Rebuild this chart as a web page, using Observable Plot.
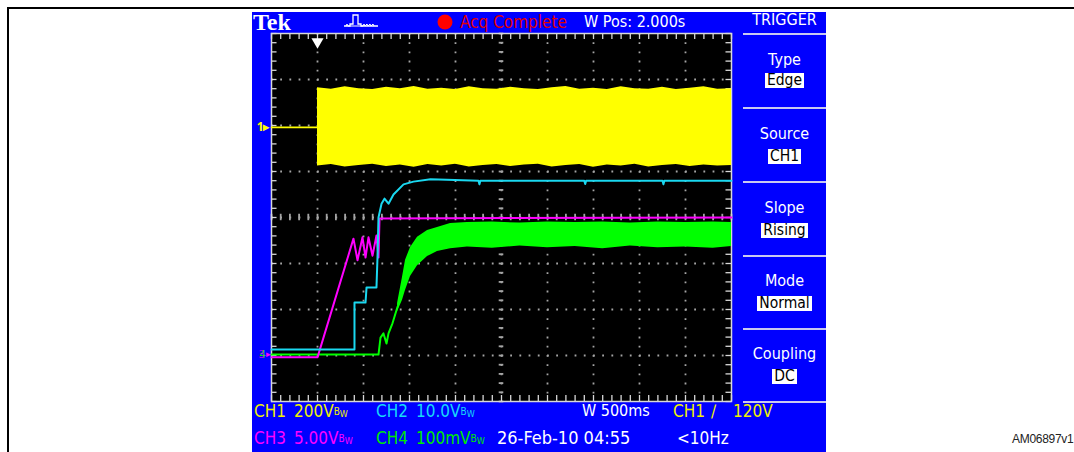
<!DOCTYPE html>
<html><head><meta charset="utf-8">
<script src="https://cdn.jsdelivr.net/npm/d3@7"></script>
<script src="https://cdn.jsdelivr.net/npm/@observablehq/plot@0.6"></script>
<style>
html,body{margin:0;padding:0;}
body{width:1074px;height:452px;overflow:hidden;background:#fff;position:relative;
 font-family:"DejaVu Sans Condensed","Liberation Sans Narrow","DejaVu Sans",sans-serif;font-stretch:condensed;}
.box{position:absolute;left:7px;top:7px;width:1100px;height:500px;border:2px solid #000;}
#scope{position:absolute;left:252px;top:12px;width:574px;height:440px;background:#0000ff;}
#plot{position:absolute;left:252px;top:12px;}
.t{position:absolute;white-space:nowrap;line-height:18px;height:18px;font-size:16px;}
.b{font-size:17px;}
.c{position:absolute;left:743px;width:83px;text-align:center;white-space:nowrap;line-height:18px;font-size:16px;color:#fff;}
.bx{display:inline-block;background:#fff;color:#000;line-height:15px;font-size:15.5px;padding:0 2px;}
.sep{position:absolute;left:743px;width:83px;height:2px;background:#c8c8f0;}
.bw{font-size:10px;position:relative;top:-2px;}
.bw sub{font-size:9px;position:relative;top:2px;vertical-align:baseline;}
.id{position:absolute;left:1012px;top:432px;font-family:"Liberation Sans",Arial,sans-serif;font-size:12px;color:#222;letter-spacing:-0.3px;}
</style></head>
<body>
<div class="box"></div>
<div id="scope"></div>
<div id="plot"></div>

<!-- top bar -->
<span class="t" style="left:253px;top:9px;height:26px;line-height:26px;font-family:'Liberation Serif',serif;font-weight:bold;font-size:24px;color:#fff;font-stretch:normal;">Tek</span>
<svg style="position:absolute;left:344px;top:13px" width="36" height="16">
 <polyline points="0,13 6,13 6,11 9,11 9,2 14,2 14,11 17,11 17,13 34,13" fill="none" stroke="#fff" stroke-width="1.3"/>
 <polyline points="2,13 3,11 4,13 19,13 20,11 21,13 23,11 24,13 26,11 27,13 29,11 30,13" fill="none" stroke="#fff" stroke-width="1"/>
</svg>
<svg style="position:absolute;left:437px;top:14px" width="16" height="16"><circle cx="8" cy="8" r="7.5" fill="#ff0000"/></svg>
<span class="t" style="left:460px;top:13px;color:#e00000;font-size:17px;">Acq Complete</span>
<span class="t" style="left:584px;top:13px;color:#fff;">W Pos: 2.000s</span>
<span class="c" style="top:11px;">TRIGGER</span>

<!-- right panel -->
<div class="sep" style="top:33px"></div>
<span class="c" style="top:51px;">Type</span>
<span class="c" style="top:71px;"><span class="bx">Edge</span></span>
<div class="sep" style="top:107px"></div>
<span class="c" style="top:125px;">Source</span>
<span class="c" style="top:147px;"><span class="bx">CH1</span></span>
<div class="sep" style="top:181px"></div>
<span class="c" style="top:199px;">Slope</span>
<span class="c" style="top:221px;"><span class="bx">Rising</span></span>
<div class="sep" style="top:255px"></div>
<span class="c" style="top:272px;">Mode</span>
<span class="c" style="top:294px;"><span class="bx">Normal</span></span>
<div class="sep" style="top:328px"></div>
<span class="c" style="top:345px;">Coupling</span>
<span class="c" style="top:367px;"><span class="bx">DC</span></span>
<div class="sep" style="top:401px"></div>

<!-- bottom readouts -->
<span class="t b" style="left:254px;top:402px;color:#f0f000;">CH1</span>
<span class="t b" style="left:294px;top:402px;color:#f0f000;">200V<span class="bw">B<sub>W</sub></span></span>
<span class="t b" style="left:376px;top:402px;color:#18d8f8;">CH2</span>
<span class="t b" style="left:416px;top:402px;color:#18d8f8;">10.0V<span class="bw">B<sub>W</sub></span></span>
<span class="t" style="left:582px;top:402px;color:#fff;">W 500ms</span>
<span class="t b" style="left:673px;top:402px;color:#f0f000;">CH1</span>
<span class="t b" style="left:711px;top:402px;color:#f0f000;">&#x2215;</span>
<span class="t b" style="left:733px;top:402px;color:#f0f000;">120V</span>
<span class="t b" style="left:254px;top:429px;color:#ff00ff;">CH3</span>
<span class="t b" style="left:294px;top:429px;color:#ff00ff;">5.00V<span class="bw">B<sub>W</sub></span></span>
<span class="t b" style="left:376px;top:429px;color:#00e800;">CH4</span>
<span class="t b" style="left:416px;top:429px;color:#00e800;">100mV<span class="bw">B<sub>W</sub></span></span>
<span class="t b" style="left:497px;top:429px;color:#fff;font-size:18px;">26-Feb-10 04:55</span>
<span class="t b" style="left:677px;top:429px;color:#fff;">&lt;10Hz</span>

<span class="id">AM06897v1</span>

<script>
// time axis in seconds relative to trigger (500 ms/div), vertical in screen divisions (center = 0)
const xDomain = [-0.5, 4.5];
const yDomain = [-4, 4];
const majorT = [0, 0.5, 1, 1.5, 2, 2.5, 3, 3.5, 4];
const majorY = [-3, -2, -1, 0, 1, 2, 3];

// CH1 (yellow): flat lead before trigger, then dense burst band with ragged edges
const ch1LeadT = [-0.5, 0];
const ch1LeadY = [1.96, 1.96];
const ch1BandT  = [0, 0.15, 0.3, 0.45, 0.6, 0.75, 0.9, 1.05, 1.2, 1.35, 1.5, 1.65, 1.8, 1.95, 2.1, 2.25, 2.4, 2.55, 2.7, 2.85, 3.0, 3.15, 3.3, 3.45, 3.6, 3.75, 3.9, 4.05, 4.2, 4.35, 4.5];
const ch1BandHi = [2.82, 2.79, 2.84, 2.80, 2.78, 2.83, 2.80, 2.85, 2.79, 2.81, 2.78, 2.84, 2.80, 2.79, 2.83, 2.80, 2.78, 2.82, 2.85, 2.79, 2.81, 2.78, 2.84, 2.80, 2.79, 2.83, 2.78, 2.81, 2.84, 2.79, 2.80];
const ch1BandLo = [1.12, 1.15, 1.10, 1.13, 1.16, 1.11, 1.14, 1.09, 1.15, 1.12, 1.16, 1.10, 1.13, 1.15, 1.11, 1.14, 1.16, 1.10, 1.13, 1.15, 1.09, 1.14, 1.12, 1.16, 1.10, 1.13, 1.15, 1.11, 1.14, 1.12, 1.13];

// CH2 (cyan)
const ch2T = [-0.5, 0.402, 0.402, 0.522, 0.533, 0.641, 0.652, 0.663, 0.696, 0.728, 0.772, 0.826, 0.935, 1.043, 1.228, 1.75, 1.76, 1.77, 2.9, 2.91, 2.92, 3.75, 3.76, 3.77, 4.5];
const ch2Y = [-2.87, -2.87, -1.85, -1.85, -1.52, -1.52, -0.87, 0.0, 0.30, 0.41, 0.30, 0.50, 0.72, 0.78, 0.83, 0.80, 0.72, 0.80, 0.80, 0.73, 0.80, 0.80, 0.72, 0.80, 0.80];

// CH3 (magenta)
const ch3T = [-0.5, 0, 0.391, 0.435, 0.489, 0.522, 0.554, 0.598, 0.641, 0.663, 0.674, 4.5];
const ch3Y = [-3.04, -3.04, -0.46, -0.93, -0.43, -0.87, -0.43, -0.83, -0.39, -0.87, -0.02, 0.0];

// CH4 (green): lead line then noisy band
const ch4T = [-0.5, 0.663, 0.685, 0.717, 0.750, 0.772, 0.815, 0.870];
const ch4Y = [-2.98, -2.98, -2.61, -2.52, -2.74, -2.52, -2.30, -1.94];
const ch4BandT  = [0.870, 0.924, 0.957, 1.011, 1.087, 1.196, 1.304, 1.446, 1.630, 1.9, 2.2, 2.5, 2.8, 3.1, 3.4, 3.7, 4.0, 4.3, 4.5];
const ch4BandHi = [-1.87, -1.30, -0.93, -0.65, -0.43, -0.28, -0.22, -0.13, -0.11, -0.10, -0.12, -0.10, -0.11, -0.10, -0.12, -0.10, -0.11, -0.10, -0.11];
const ch4BandLo = [-2.05, -1.80, -1.58, -1.28, -1.05, -0.85, -0.74, -0.68, -0.64, -0.67, -0.62, -0.66, -0.63, -0.68, -0.62, -0.66, -0.64, -0.67, -0.63];

const zip2 = (xs, ys) => xs.map((x, i) => ({x, y: ys[i]}));
const zip3 = (xs, lo, hi) => xs.map((x, i) => ({x, lo: lo[i], hi: hi[i]}));

const minorT = d3.range(-0.5, 4.5001, 0.1);
const minorY = d3.range(-4, 4.0001, 0.2);
const grid = "#a4a4a4";

const chart = Plot.plot({
  width: 574, height: 440,
  marginLeft: 19, marginRight: 95, marginTop: 21, marginBottom: 51,
  style: {background: "transparent", overflow: "visible"},
  x: {domain: xDomain, axis: null},
  y: {domain: yDomain, axis: null},
  marks: [
    Plot.frame({fill: "#000"}),
    // dotted graticule
    Plot.ruleX(majorT, {stroke: grid, strokeWidth: 1.8, strokeDasharray: "1.8 7.4"}),
    Plot.ruleY(majorY, {stroke: grid, strokeWidth: 1.8, strokeDasharray: "1.8 7.4"}),
    // center cross tick marks
    Plot.ruleX(minorT, {x: d => d, y1: -0.07, y2: 0.07, stroke: grid, strokeWidth: 1.8}),
    Plot.ruleY(minorY, {y: d => d, x1: 1.975, x2: 2.025, stroke: grid, strokeWidth: 1.8}),
    // border tick marks
    Plot.ruleX(minorT, {x: d => d, y1: 4, y2: 3.87, stroke: "#d8d8d8", strokeWidth: 1.3}),
    Plot.ruleX(minorT, {x: d => d, y1: -4, y2: -3.87, stroke: "#d8d8d8", strokeWidth: 1.3}),
    Plot.ruleY(minorY, {y: d => d, x1: -0.5, x2: -0.44, stroke: "#d8d8d8", strokeWidth: 1.3}),
    Plot.ruleY(minorY, {y: d => d, x1: 4.5, x2: 4.44, stroke: "#d8d8d8", strokeWidth: 1.3}),
    Plot.frame({stroke: "#d8d8d8", strokeWidth: 1.5}),
    // CH4 green
    Plot.areaY(zip3(ch4BandT, ch4BandLo, ch4BandHi), {x: "x", y1: "lo", y2: "hi", fill: "#00ff00"}),
    Plot.line(zip2(ch4T, ch4Y), {x: "x", y: "y", stroke: "#00ff00", strokeWidth: 2}),
    // CH3 magenta
    Plot.line(zip2(ch3T, ch3Y), {x: "x", y: "y", stroke: "#ff00ff", strokeWidth: 2}),
    // CH2 cyan
    Plot.line(zip2(ch2T, ch2Y), {x: "x", y: "y", stroke: "#1ad8f0", strokeWidth: 2}),
    // CH1 yellow
    Plot.line(zip2(ch1LeadT, ch1LeadY), {x: "x", y: "y", stroke: "#ffff00", strokeWidth: 1.6}),
    Plot.areaY(zip3(ch1BandT, ch1BandLo, ch1BandHi), {x: "x", y1: "lo", y2: "hi", fill: "#ffff00"}),
    // trigger position and level markers
    Plot.dot([0], {x: d => d, y: 3.82, symbol: "triangle", r: 4.5, rotate: 180, fill: "#fff"}),
    Plot.dot([2.61], {x: 4.43, y: d => d, r: 4, stroke: "#ffff00", strokeWidth: 1.2, strokeDasharray: "2 1.5", fill: "none"}),
    // channel ground markers
    Plot.text([1.96], {x: -0.5, y: d => d, text: () => "1\u25B8", dx: -2, textAnchor: "end", fill: "#ffff00", fontSize: 12, fontWeight: "bold"}),
    Plot.text([-2.98], {x: -0.5, y: d => d, text: () => "4", dx: -9, textAnchor: "middle", fill: "#00ff00", fontSize: 10}),
    Plot.text([-2.98], {x: -0.5, y: d => d, text: () => "3", dx: -10, textAnchor: "middle", fill: "#ff00ff", fontSize: 10, fillOpacity: 0.7}),
    Plot.text([-2.98], {x: -0.5, y: d => d, text: () => "\u25B8", dx: -3, textAnchor: "middle", fill: "#ff00ff", fontSize: 9})
  ]
});
document.getElementById("plot").appendChild(chart);
</script>
</body></html>
